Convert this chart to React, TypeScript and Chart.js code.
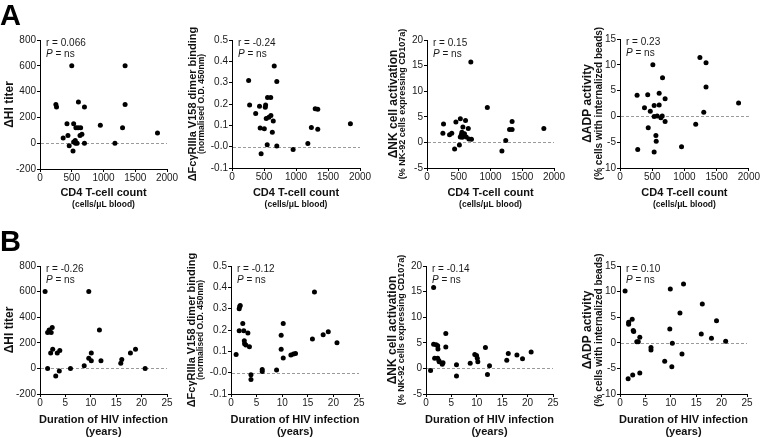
import React, { useEffect, useRef } from "react";
import { Chart, registerables } from "chart.js";

Chart.register(...registerables);

const FONT = "'Liberation Sans', Arial, Helvetica, sans-serif";

// ---------- data ----------
const cd4_HI = [500, 1340, 1340, 250, 260, 605, 700, 425, 530, 565, 600, 640, 950, 1300, 1850, 365, 440, 460, 520, 530, 555, 560, 585, 630, 660, 700, 1180];
const dHI_cd4 = [600, 600, 300, 300, 280, 320, 280, 150, 150, 120, 120, 120, 140, 120, 80, 40, 60, -20, -60, 10, 20, 0, 0, 60, 70, 0, 0];

const cd4_Fc = [260, 275, 370, 430, 525, 520, 555, 605, 660, 700, 535, 577, 608, 645, 440, 505, 630, 550, 455, 700, 955, 1185, 1240, 1300, 1340, 1340, 1850];
const dFc_cd4 = [0.31, 0.195, 0.155, 0.19, 0.195, 0.185, 0.23, 0.23, 0.378, 0.305, 0.132, 0.138, 0.146, 0.12, 0.087, 0.084, 0.067, 0.009, -0.033, 0.003, -0.013, 0.015, 0.09, 0.178, 0.175, 0.082, 0.107];

const cd4_NK = [690, 950, 260, 250, 355, 390, 455, 525, 607, 565, 650, 550, 590, 524, 540, 618, 660, 700, 510, 435, 555, 1180, 1240, 1300, 1340, 1340, 1840];
const dNK_cd4 = [15.7, 6.8, 3.6, 1.8, 1.5, 1.8, 4.0, 4.6, 4.3, 3.0, 2.7, 2.0, 1.7, 1.07, 1.5, 1.07, 0.68, 0.6, -0.5, -1.3, 1.0, -1.7, 0.35, 2.5, 2.5, 4.1, 2.7];

const cd4_ADP = [510, 1240, 1335, 1335, 660, 265, 430, 608, 700, 380, 470, 530, 608, 577, 530, 634, 655, 700, 438, 557, 562, 275, 530, 955, 1175, 1300, 1840];
const dADP_cd4 = [10.0, 11.4, 10.4, 5.7, 7.5, 4.1, 4.2, 4.5, 3.4, 1.7, 1.0, 2.1, 2.2, 0.1, 0, -0.25, 0.1, -1.0, -2.2, -3.7, -4.8, -6.4, -6.9, -5.9, -1.5, 0.8, 2.6];

const dur_HI = [1.0, 9.6, 1.5, 1.8, 2.4, 2.2, 11.7, 2.1, 2.5, 3.4, 3.9, 1.5, 3.1, 3.8, 6.0, 8.7, 9.6, 10.1, 10.1, 12.0, 17.8, 18.8, 15.9, 16.1, 20.7];
const dHI_dur = [600, 600, 280, 300, 320, 280, 300, 120, 150, 120, 140, 0, -60, -20, 0, 20, 80, 120, 60, 60, 120, 150, 40, 70, 0];

const dur_Fc = [1.0, 1.7, 1.6, 1.8, 1.6, 2.3, 2.5, 3.3, 2.6, 2.65, 2.9, 3.6, 3.9, 3.9, 6.1, 6.1, 8.9, 9.8, 9.8, 10.2, 10.2, 11.7, 12.2, 12.6, 16.3, 15.9, 18.0, 19.0, 20.7];
const dFc_dur = [0.085, 0.31, 0.3, 0.315, 0.196, 0.23, 0.197, 0.186, 0.15, 0.135, 0.13, 0.122, -0.01, -0.032, 0.015, 0.005, 0.012, 0.175, 0.11, 0.23, 0.069, 0.083, 0.088, 0.09, 0.378, 0.158, 0.178, 0.192, 0.14];

const dur_NK = [1.5, 3.9, 1.5, 2.0, 2.3, 2.35, 3.9, 1.7, 2.3, 2.55, 2.6, 3.2, 3.35, 0.9, 6.0, 6.0, 8.7, 9.6, 9.95, 10.1, 10.2, 11.7, 12.1, 12.5, 15.9, 16.2, 17.9, 19.0, 20.7];
const dNK_dur = [15.8, 6.8, 4.7, 4.6, 4.4, 3.8, 4.2, 2.0, 2.0, 1.5, 1.3, 0.8, 1.1, -0.4, 0.7, -1.5, 1.0, 2.7, 2.5, 2.0, 1.3, 4.1, -1.2, 0.5, 1.6, 2.9, 2.6, 1.9, 3.2];

const dur_ADP = [1.0, 9.9, 12.5, 16.2, 11.8, 1.7, 1.7, 2.4, 2.6, 2.7, 3.9, 3.3, 3.6, 6.1, 6.1, 9.8, 10.3, 12.2, 8.8, 10.2, 1.6, 2.5, 3.9, 16.0, 18.0, 19.0, 20.8];
const dADP_dur = [10.1, 10.5, 11.5, 7.6, 5.8, 4.0, 3.6, 4.6, 2.4, 2.2, 1.1, 0.2, 0.2, -0.9, -1.4, 2.7, -0.1, -2.2, -3.6, -4.7, -7.0, -6.3, -5.9, 1.7, 0.9, 4.3, 0.3];

const rValues = ["0.066", "-0.24", "0.15", "0.23", "-0.26", "-0.12", "-0.14", "0.10"];
const cd4Ticks = { max: 2000, step: 500 };
const durTicks = { max: 25, step: 5 };
const hiRange = { min: -200, max: 800, step: 200 };
const fcRange = { min: -0.1, max: 0.5, step: 0.1 };
const nkRange = { min: -5, max: 20, step: 5 };
const adpRange = { min: -10, max: 15, step: 5 };

// ---------- layout ----------
type TitleLine = { text: string; size: number; pos: number };
type Panel = {
  xs: number[];
  ys: number[];
  box: [number, number, number, number];
  xr: { max: number; step: number };
  yr: { min: number; max: number; step: number };
  r: string;
  yTitle: TitleLine[];
  xTitle: TitleLine[];
  letter?: { text: string; x: number; y: number };
  dec?: number;
};

const W = 760;
const H = 438;
const YW = 30;
const XH = 20;

const yTitlesFor = (kind: string, left: number): TitleLine[] => {
  if (kind === "HI") return [{ text: "\u0394HI titer", size: 12, pos: left - 30 }];
  if (kind === "Fc")
    return [
      { text: "\u0394Fc\u03B3RIIIa V158 dimer binding", size: 11, pos: left - 39 },
      { text: "(normalised O.D. 450nm)", size: 8.5, pos: left - 30 },
    ];
  if (kind === "NK")
    return [
      { text: "\u0394NK cell activation", size: 12, pos: left - 33 },
      { text: "(% NK-92 cells expressing CD107a)", size: 9, pos: left - 24 },
    ];
  return [
    { text: "\u0394ADP activity", size: 12, pos: left - 32 },
    { text: "(% cells with internalized beads)", size: 10, pos: left - 21 },
  ];
};

const xTitleA: TitleLine[] = [
  { text: "CD4 T-cell count", size: 11, pos: 193 },
  { text: "(cells/\u03BCL blood)", size: 8.5, pos: 205 },
];
const xTitleB: TitleLine[] = [
  { text: "Duration of HIV infection", size: 11, pos: 420 },
  { text: "(years)", size: 11, pos: 432 },
];

const panels: Panel[] = [
  { xs: cd4_HI, ys: dHI_cd4, box: [40, 40, 167, 169], xr: cd4Ticks, yr: hiRange, r: rValues[0], yTitle: yTitlesFor("HI", 40), xTitle: xTitleA, letter: { text: "A", x: 0, y: 25 } },
  { xs: cd4_Fc, ys: dFc_cd4, box: [232, 40, 360, 168], xr: cd4Ticks, yr: fcRange, r: rValues[1], yTitle: yTitlesFor("Fc", 232), xTitle: xTitleA, dec: 1 },
  { xs: cd4_NK, ys: dNK_cd4, box: [427, 40, 554, 168], xr: cd4Ticks, yr: nkRange, r: rValues[2], yTitle: yTitlesFor("NK", 427), xTitle: xTitleA },
  { xs: cd4_ADP, ys: dADP_cd4, box: [620, 39, 749, 168], xr: cd4Ticks, yr: adpRange, r: rValues[3], yTitle: yTitlesFor("ADP", 620), xTitle: xTitleA },
  { xs: dur_HI, ys: dHI_dur, box: [40, 266, 167, 394], xr: durTicks, yr: hiRange, r: rValues[4], yTitle: yTitlesFor("HI", 40), xTitle: xTitleB, letter: { text: "B", x: 0, y: 251 } },
  { xs: dur_Fc, ys: dFc_dur, box: [231, 266, 359, 394], xr: durTicks, yr: fcRange, r: rValues[5], yTitle: yTitlesFor("Fc", 231), xTitle: xTitleB, dec: 1 },
  { xs: dur_NK, ys: dNK_dur, box: [426, 266, 553, 394], xr: durTicks, yr: nkRange, r: rValues[6], yTitle: yTitlesFor("NK", 426), xTitle: xTitleB },
  { xs: dur_ADP, ys: dADP_dur, box: [620, 266, 747, 394], xr: durTicks, yr: adpRange, r: rValues[7], yTitle: yTitlesFor("ADP", 620), xTitle: xTitleB },
];

const makePlugin = (p: Panel) => ({
  id: "annot",
  beforeDatasetsDraw(chart: any) {
    const { ctx, chartArea } = chart;
    const y0 = Math.round(chart.scales.y.getPixelForValue(0)) + 0.5;
    ctx.save();
    ctx.strokeStyle = "#9a9a9a";
    ctx.lineWidth = 1;
    ctx.setLineDash([3, 2]);
    ctx.beginPath();
    ctx.moveTo(chartArea.left + 1, y0);
    ctx.lineTo(chartArea.right, y0);
    ctx.stroke();
    ctx.restore();
  },
  afterDraw(chart: any) {
    const { ctx, chartArea } = chart;
    ctx.save();
    ctx.fillStyle = "#1a1a1a";
    ctx.textBaseline = "middle";
    ctx.textAlign = "left";
    const tx = chartArea.left + 6;
    ctx.font = `10px ${FONT}`;
    ctx.fillText(`r = ${p.r}`, tx, chartArea.top + 3);
    ctx.font = `italic 10px ${FONT}`;
    ctx.fillText("P", tx, chartArea.top + 14);
    const pw = ctx.measureText("P").width;
    ctx.font = `10px ${FONT}`;
    ctx.fillText(" = ns", tx + pw, chartArea.top + 14);

    // x titles
    ctx.fillStyle = "#111";
    ctx.textAlign = "center";
    const cx = (chartArea.left + chartArea.right) / 2;
    for (const t of p.xTitle) {
      ctx.font = `bold ${t.size}px ${FONT}`;
      ctx.fillText(t.text, cx, t.pos);
    }
    // y titles
    const cy = (chartArea.top + chartArea.bottom) / 2;
    for (const t of p.yTitle) {
      ctx.save();
      ctx.translate(t.pos, cy);
      ctx.rotate(-Math.PI / 2);
      ctx.font = `bold ${t.size}px ${FONT}`;
      ctx.fillText(t.text, 0, 0);
      ctx.restore();
    }
    if (p.letter) {
      ctx.textAlign = "left";
      ctx.textBaseline = "alphabetic";
      ctx.fillStyle = "#000";
      ctx.font = `bold 29px ${FONT}`;
      ctx.fillText(p.letter.text, p.letter.x, p.letter.y);
    }
    ctx.restore();
  },
});

function PanelChart({ p }: { p: Panel }) {
  const ref = useRef<HTMLCanvasElement | null>(null);
  useEffect(() => {
    if (!ref.current) return;
    const [L, T, R, B] = p.box;
    const axisCommon = {
      grid: {
        display: true,
        drawOnChartArea: false,
        drawTicks: true,
        tickLength: 3,
        tickColor: "#000",
        color: "#000",
        lineWidth: 1,
      },
      border: { display: true, color: "#000", width: 1 },
    };
    const chart = new Chart(ref.current, {
      type: "scatter",
      data: {
        datasets: [
          {
            data: p.xs.map((x, i) => ({ x, y: p.ys[i] })),
            backgroundColor: "#000",
            borderColor: "#000",
            borderWidth: 0,
            pointRadius: 2.5,
          },
        ],
      },
      options: {
        animation: false,
        responsive: false,
        devicePixelRatio: 1,
        layout: { padding: { left: L - YW, top: T, right: W - R, bottom: H - B - XH } },
        plugins: { legend: { display: false }, tooltip: { enabled: false } },
        scales: {
          x: {
            type: "linear",
            position: "bottom",
            min: 0,
            max: p.xr.max,
            ...axisCommon,
            ticks: {
              stepSize: p.xr.step,
              autoSkip: false,
              maxRotation: 0,
              padding: 0,
              color: "#1a1a1a",
              font: { family: FONT, size: 10 },
              callback: (v: any) => String(Math.round(Number(v))),
            },
            afterFit: (s: any) => {
              s.height = XH;
            },
          },
          y: {
            type: "linear",
            min: p.yr.min,
            max: p.yr.max,
            ...axisCommon,
            ticks: {
              stepSize: p.yr.step,
              autoSkip: false,
              padding: 1,
              color: "#1a1a1a",
              font: { family: FONT, size: 10 },
              callback: (v: any) => (p.dec ? Number(v).toFixed(p.dec) : String(Math.round(Number(v)))),
            },
            afterFit: (s: any) => {
              s.width = YW;
            },
          },
        },
      } as any,
      plugins: [makePlugin(p)],
    });
    return () => chart.destroy();
  }, [p]);
  return (
    <canvas
      ref={ref}
      width={W}
      height={H}
      style={{ position: "absolute", left: 0, top: 0, width: W, height: H, pointerEvents: "none" }}
    />
  );
}

export default function App() {
  return (
    <div style={{ position: "fixed", left: 0, top: 0, width: W, height: H, background: "#fff", overflow: "hidden" }}>
      {panels.map((p, i) => (
        <PanelChart key={i} p={p} />
      ))}
    </div>
  );
}
